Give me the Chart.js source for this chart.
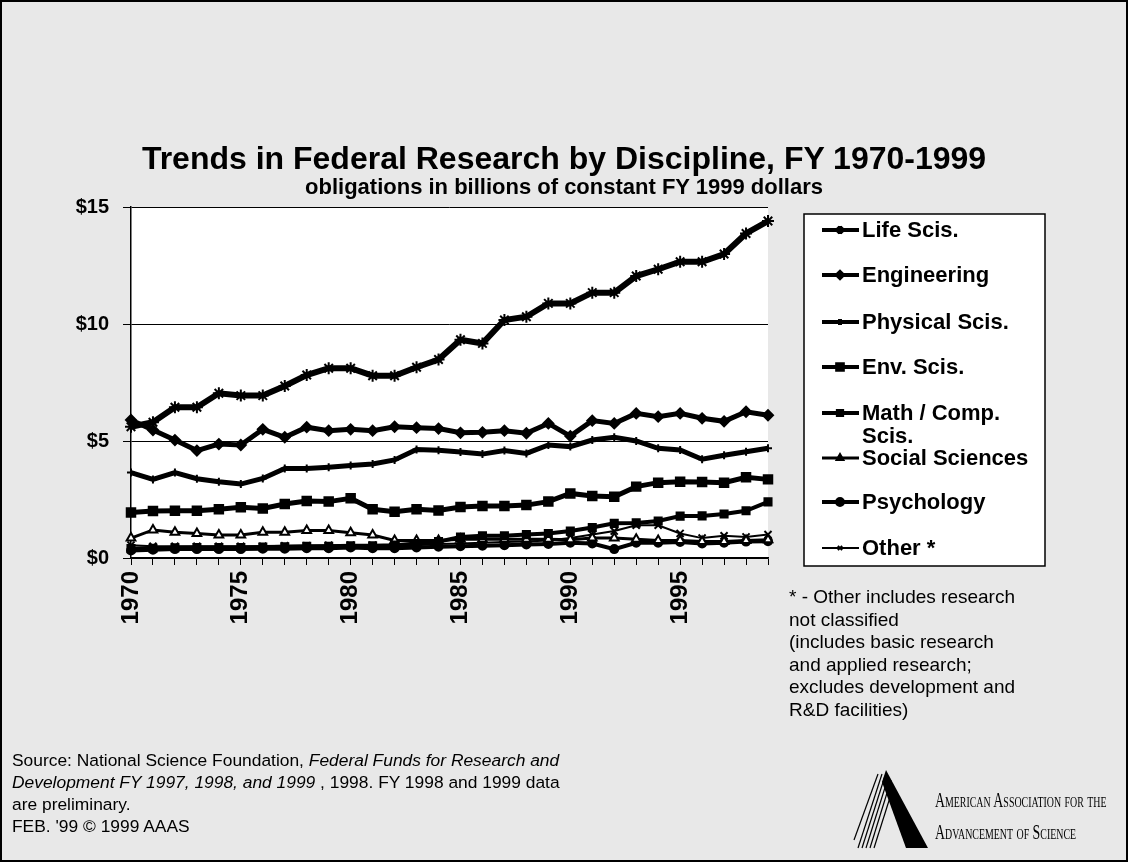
<!DOCTYPE html>
<html>
<head>
<meta charset="utf-8">
<script src="https://cdn.jsdelivr.net/npm/chart.js@4.4.1/dist/chart.umd.min.js"></script>
<style>
  html, body { margin: 0; padding: 0; }
  body { width: 1128px; height: 862px; position: relative; overflow: hidden;
         background: #e8e8e8; font-family: Arial, "Liberation Sans", sans-serif; color: #000; }
  #frame { position: absolute; left: 0; top: 0; width: 1124px; height: 858px; border: 2px solid #000; }
  #chart { position: absolute; left: 0; top: 0; }
  .txt { position: absolute; white-space: nowrap; }
  #title { left: 0; width: 1128px; top: 140px; text-align: center; font-weight: bold; font-size: 32px; padding-left: 0; }
  #subtitle { left: 0; width: 1128px; top: 174px; text-align: center; font-weight: bold; font-size: 22px; }
  #note { left: 789px; top: 586px; font-size: 19px; line-height: 22.5px; }
  #source { left: 12px; top: 749px; font-size: 17.4px; line-height: 22px; }
  #aaas { left: 935px; top: 784px; font-family: "Liberation Serif", "DejaVu Serif", serif;
          font-variant: small-caps; font-size: 21px; line-height: 32px;
          transform: scaleX(0.66); transform-origin: left top; }
  #logo { position: absolute; left: 852px; top: 768px; }
</style>
</head>
<body>
<div id="frame"></div>
<canvas id="chart" width="1128" height="862"></canvas>
<div class="txt" id="title">Trends in Federal Research by Discipline, FY 1970-1999</div>
<div class="txt" id="subtitle">obligations in billions of constant FY 1999 dollars</div>
<div class="txt" id="note">* - Other includes research<br>not classified<br>(includes basic research<br>and applied research;<br>excludes development and<br>R&amp;D facilities)</div>
<div class="txt" id="source">Source: National Science Foundation, <i>Federal Funds for Research and</i><br><i>Development FY 1997, 1998, and 1999</i> , 1998. FY 1998 and 1999 data<br>are preliminary.<br>FEB. '99 © 1999 AAAS</div>
<svg id="logo" width="78" height="82" viewBox="0 0 78 82">
  <g stroke="#000" stroke-width="1.2">
    <line x1="6" y1="80" x2="30" y2="6"/><line x1="10" y1="80" x2="33" y2="8"/>
    <line x1="14" y1="80" x2="36" y2="10"/><line x1="18" y1="80" x2="39" y2="12"/>
    <line x1="22" y1="80" x2="41" y2="20"/><line x1="2" y1="72" x2="26" y2="6"/>
  </g>
  <polygon points="34,2 76,80 54,80 30,14" fill="#000"/>
</svg>
<div class="txt" id="aaas">American Association for the<br>Advancement of Science</div>

<script>
// ===== Date =====
const years = [1970, 1971, 1972, 1973, 1974, 1975, 1976, 1977, 1978, 1979,
  1980, 1981, 1982, 1983, 1984, 1985, 1986, 1987, 1988, 1989,
  1990, 1991, 1992, 1993, 1994, 1995, 1996, 1997, 1998, 1999];

const lifeSci = [5.61, 5.80, 6.44, 6.44, 7.04, 6.94, 6.94, 7.35, 7.82, 8.11,
  8.11, 7.79, 7.79, 8.15, 8.48, 9.33, 9.17, 10.17, 10.31, 10.88,
  10.88, 11.34, 11.34, 12.05, 12.34, 12.66, 12.66, 12.99, 13.87, 14.40];
const engineering = [5.90, 5.47, 5.04, 4.59, 4.87, 4.83, 5.50, 5.16, 5.59, 5.44,
  5.50, 5.44, 5.61, 5.57, 5.53, 5.35, 5.37, 5.44, 5.33, 5.75,
  5.21, 5.87, 5.75, 6.18, 6.04, 6.18, 5.97, 5.84, 6.25, 6.10];
const physicalSci = [3.65, 3.36, 3.65, 3.39, 3.26, 3.16, 3.40, 3.83, 3.83, 3.88,
  3.95, 4.02, 4.19, 4.64, 4.60, 4.53, 4.44, 4.59, 4.47, 4.83,
  4.76, 5.04, 5.16, 5.00, 4.69, 4.62, 4.22, 4.39, 4.54, 4.69];
const envSci = [1.94, 2.01, 2.02, 2.02, 2.08, 2.17, 2.12, 2.31, 2.44, 2.41,
  2.55, 2.08, 1.98, 2.08, 2.03, 2.18, 2.22, 2.22, 2.26, 2.41,
  2.76, 2.65, 2.62, 3.05, 3.22, 3.26, 3.25, 3.22, 3.45, 3.36];
const mathComp = [0.40, 0.42, 0.44, 0.45, 0.45, 0.45, 0.47, 0.48, 0.50, 0.50,
  0.52, 0.52, 0.55, 0.62, 0.70, 0.90, 0.95, 0.95, 1.00, 1.05,
  1.15, 1.30, 1.48, 1.50, 1.58, 1.79, 1.80, 1.88, 2.02, 2.40];
const socialSci = [0.85, 1.20, 1.10, 1.05, 0.98, 0.98, 1.10, 1.10, 1.17, 1.17,
  1.08, 0.98, 0.75, 0.75, 0.75, 0.80, 0.80, 0.80, 0.80, 0.80,
  0.78, 0.85, 0.85, 0.80, 0.75, 0.75, 0.70, 0.70, 0.75, 0.78];
const psychology = [0.32, 0.35, 0.38, 0.38, 0.38, 0.38, 0.40, 0.40, 0.42, 0.42,
  0.45, 0.42, 0.42, 0.45, 0.48, 0.50, 0.52, 0.55, 0.58, 0.60,
  0.65, 0.62, 0.38, 0.65, 0.65, 0.68, 0.62, 0.65, 0.70, 0.72];
const other = [0.55, 0.50, 0.50, 0.50, 0.50, 0.50, 0.50, 0.52, 0.52, 0.55,
  0.55, 0.55, 0.52, 0.55, 0.60, 0.62, 0.65, 0.68, 0.70, 0.75,
  0.85, 1.00, 1.15, 1.40, 1.40, 1.05, 0.85, 0.95, 0.90, 1.00];

const yTicks = [0, 5, 10, 15];

// ===== Serii (toate negre, diferă markerul) =====
function serie(label, data, style, radius, lineW, fill) {
  return {
    label, data,
    borderColor: "#000", backgroundColor: fill || "#000",
    pointStyle: style, pointRadius: radius, pointBorderWidth: 2,
    pointBorderColor: "#000", pointBackgroundColor: fill || "#000",
    borderWidth: lineW, tension: 0
  };
}

const datasets = [
  serie("Life Scis.", lifeSci, "star", 6, 6),
  serie("Engineering", engineering, "rectRot", 5, 5),
  serie("Physical Scis.", physicalSci, "cross", 4, 5),
  serie("Env. Scis.", envSci, "rect", 6, 5),
  serie("Math / Comp.", mathComp, "rect", 5, 4),
  serie("Social Sciences", socialSci, "triangle", 5, 3, "#fff"),
  serie("Psychology", psychology, "circle", 4, 4),
  serie("Other *", other, "crossRot", 5, 2)
];

// fundal alb pentru zona graficului
const plotBg = {
  id: "plotBg",
  beforeDraw(chart) {
    const { ctx, chartArea: a } = chart;
    ctx.save();
    ctx.fillStyle = "#fff";
    ctx.fillRect(a.left, a.top, a.right - a.left, a.bottom - a.top);
    ctx.restore();
  }
};

// legenda desenată manual, în cutie
const boxLegend = {
  id: "boxLegend",
  afterDraw(chart) {
    const ctx = chart.ctx;
    const rows = [230, 275, 322, 367, 413, 458, 502, 548];
    ctx.save();
    ctx.fillStyle = "#fff";
    ctx.fillRect(804, 214, 241, 352);
    ctx.strokeStyle = "#000";
    ctx.lineWidth = 1.5;
    ctx.strokeRect(804, 214, 241, 352);
    chart.data.datasets.forEach((ds, i) => {
      const y = rows[i];
      ctx.strokeStyle = "#000";
      ctx.lineWidth = Math.min(ds.borderWidth, 4);
      ctx.beginPath();
      ctx.moveTo(822, y);
      ctx.lineTo(859, y);
      ctx.stroke();
      Chart.helpers.drawPoint(ctx, {
        pointStyle: ds.pointStyle, radius: Math.max(3, ds.pointRadius - 2), rotation: 0,
        borderWidth: 1.5
      }, 840, y);
      ctx.fillStyle = "#000";
      ctx.font = "bold 22px Arial, 'Liberation Sans', sans-serif";
      ctx.textBaseline = "middle";
      ctx.fillText(ds.label, 862, y + 1);
      if (ds.label.startsWith("Math")) ctx.fillText("Scis.", 862, y + 24);
    });
    ctx.restore();
  }
};

const ctx = document.getElementById("chart").getContext("2d");

new Chart(ctx, {
  type: "line",
  data: { labels: years, datasets },
  plugins: [plotBg, boxLegend],
  options: {
    responsive: false,
    animation: false,
    layout: { padding: { left: 0, right: 360, top: 207, bottom: 224 } },
    plugins: { legend: { display: false }, tooltip: { enabled: false } },
    scales: {
      x: {
        type: "category",
        offset: false,
        afterFit: s => { s.height = 80; },
        border: { color: "#000", width: 1.5 },
        grid: { drawOnChartArea: false, drawTicks: true, tickLength: 7, color: "#000", lineWidth: 1 },
        ticks: {
          autoSkip: false, minRotation: 90, maxRotation: 90, padding: 6,
          color: "#000", font: { family: "Arial, 'Liberation Sans', sans-serif", size: 24, weight: "bold" },
          callback: function (v) {
            const yr = this.getLabelForValue(v);
            return yr % 5 === 0 ? String(yr) : "";
          }
        }
      },
      y: {
        min: 0, max: 15,
        afterFit: s => { s.width = 131; },
        afterBuildTicks: s => { s.ticks = yTicks.map(v => ({ value: v })); },
        border: { color: "#000", width: 1.5 },
        grid: { color: "#000", lineWidth: 1, tickLength: 8 },
        ticks: {
          padding: 14, color: "#000",
          font: { family: "Arial, 'Liberation Sans', sans-serif", size: 20, weight: "bold" },
          callback: v => "$" + v
        }
      }
    }
  }
});
</script>
</body>
</html>
